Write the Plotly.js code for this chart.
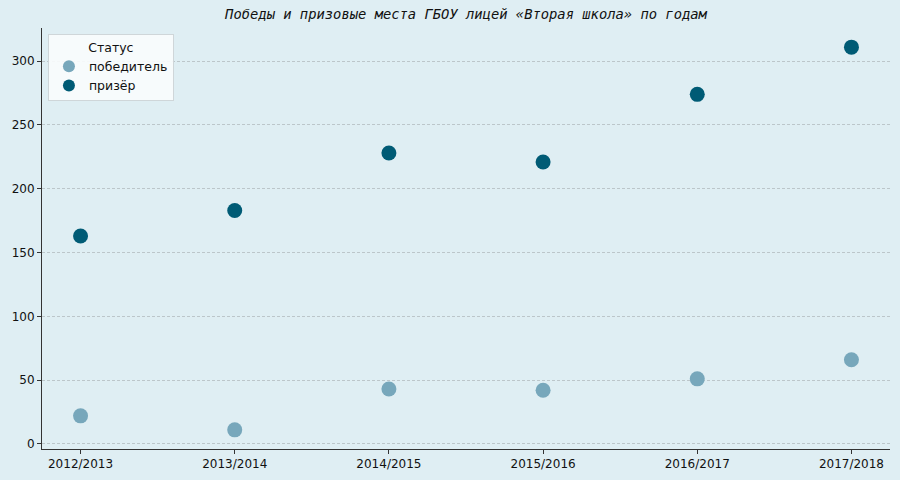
<!DOCTYPE html>
<html>
<head>
<meta charset="utf-8">
<script src="https://cdn.plot.ly/plotly-3.0.1.min.js"></script>
<style>html,body{margin:0;padding:0;background:#dfeef3;}#chart{width:900px;height:480px;}</style>
</head>
<body>
<div id="chart"></div>
<script>
const years = ["2012/2013","2013/2014","2014/2015","2015/2016","2016/2017","2017/2018"];
const winners = [22, 11, 43, 42, 51, 66];
const prizewinners = [163, 183, 228, 221, 274, 311];
const seriesNames = ["победитель", "призёр"];
const legendTitle = "Статус";
const chartTitle = "Победы и призовые места ГБОУ лицей «Вторая школа» по годам";

const bg = "#dfeef3";
const traces = [
  {x: years, y: winners, name: seriesNames[0], type: "scatter", mode: "markers",
   marker: {size: 15, color: "#77a7bb"}},
  {x: years, y: prizewinners, name: seriesNames[1], type: "scatter", mode: "markers",
   marker: {size: 15, color: "#005b75"}}
];
const layout = {
  width: 900, height: 480,
  paper_bgcolor: bg, plot_bgcolor: bg,
  margin: {l: 42, r: 10, t: 28, b: 31},
  font: {family: "DejaVu Sans", size: 12, color: "#222"},
  title: {text: chartTitle, x: 0.5, xref: "paper", y: 0.97, yref: "container", yanchor: "middle",
          font: {family: "DejaVu Sans Mono", size: 13.8, color: "#111", style: "italic"}},
  xaxis: {type: "category", range: [-0.25, 5.25], showline: true, linecolor: "#333", linewidth: 1,
          ticks: "outside", ticklen: 4, tickcolor: "#333", showgrid: false, zeroline: false,
          tickfont: {size: 12, color: "#111"}},
  yaxis: {range: [-4, 326], showline: true, linecolor: "#333", linewidth: 1,
          ticks: "outside", ticklen: 4, tickcolor: "#333", tickvals: [0,50,100,150,200,250,300],
          showgrid: true, gridcolor: "#bcc6ca", griddash: "3px,2px", gridwidth: 1, zeroline: false,
          tickfont: {size: 12, color: "#111"}},
  legend: {x: 0.007, y: 0.985, xanchor: "left", yanchor: "top",
           bgcolor: "rgba(250,252,253,0.9)", bordercolor: "#cfd6d9", borderwidth: 1,
           title: {text: legendTitle, side: "top center", font: {size: 12.5}},
           font: {size: 12.5, color: "#111"}, itemsizing: "constant", tracegroupgap: 0},
  showlegend: true
};
Plotly.newPlot("chart", traces, layout, {staticPlot: true});
</script>
</body>
</html>
